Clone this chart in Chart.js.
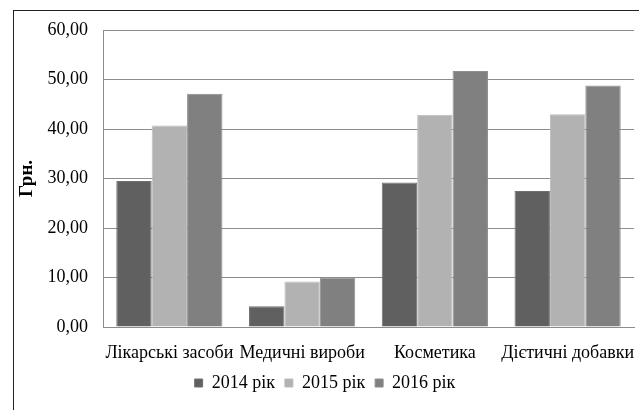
<!DOCTYPE html>
<html>
<head>
<meta charset="utf-8">
<script src="https://cdn.jsdelivr.net/npm/chart.js@4.4.1/dist/chart.umd.min.js"></script>
<style>
  html, body { margin: 0; padding: 0; background: #fff; overflow: hidden; }
  #wrap { position: relative; width: 639px; height: 410px; }
  #frame { position: absolute; left: 13px; top: 10px; width: 700px; height: 500px; border: 1.5px solid #222; box-sizing: border-box; }
  canvas { position: absolute; left: 0; top: 0; }
</style>
</head>
<body>
<div id="wrap">
  <div id="frame"></div>
  <canvas id="c" width="639" height="410"></canvas>
</div>
<script>
const categories = ["Лікарські засоби", "Медичні вироби", "Косметика", "Дієтичні добавки"];
const seriesNames = ["2014 рік", "2015 рік", "2016 рік"];
const values2014 = [29.5, 4.2, 29.2, 27.5];
const values2015 = [40.7, 9.2, 42.9, 43.0];
const values2016 = [47.1, 10.0, 51.7, 48.8];
const yTicks = [0, 10, 20, 30, 40, 50, 60];
const yTitle = "Грн.";

const FONT = "'Liberation Serif', 'Times New Roman', serif";

new Chart(document.getElementById('c'), {
  type: 'bar',
  data: {
    labels: categories,
    datasets: [
      { label: seriesNames[0], data: values2014, backgroundColor: '#606060', borderColor: '#707070', borderWidth: 1 },
      { label: seriesNames[1], data: values2015, backgroundColor: '#b2b2b2', borderColor: '#bcbcbc', borderWidth: 1 },
      { label: seriesNames[2], data: values2016, backgroundColor: '#808080', borderColor: '#8e8e8e', borderWidth: 1 }
    ]
  },
  options: {
    responsive: false,
    animation: false,
    devicePixelRatio: 1,
    layout: { padding: { left: 16, right: 5, top: 30, bottom: 8 } },
    datasets: { bar: { categoryPercentage: 0.8, barPercentage: 1.0 } },
    plugins: {
      legend: {
        position: 'bottom',
        labels: {
          font: { family: FONT, size: 18 },
          color: '#000',
          boxWidth: 8,
          boxHeight: 8,
          padding: 10
        }
      },
      tooltip: { enabled: false }
    },
    scales: {
      x: {
        grid: { display: false, drawTicks: false },
        border: { display: true, color: '#8c8c8c', width: 1 },
        ticks: { font: { family: FONT, size: 18 }, color: '#000', padding: 15, maxRotation: 0, autoSkip: false },
        afterFit: (s) => { s.paddingLeft = 0; s.paddingRight = 0; s.height = 37; }
      },
      y: {
        min: 0, max: 60,
        afterBuildTicks: (axis) => { axis.ticks = yTicks.map(v => ({ value: v })); },
        grid: { color: '#8c8c8c', lineWidth: 1, drawTicks: false },
        border: { display: true, color: '#8c8c8c', width: 1 },
        ticks: {
          font: { family: FONT, size: 18 }, color: '#000', padding: 15,
          callback: (v) => v.toFixed(2).replace('.', ',')
        },
        title: { display: true, text: yTitle, font: { family: FONT, size: 19, weight: 'bold' }, color: '#000', padding: 0 },
        afterFit: (s) => { s.width = 87; s.paddingTop = 0; s.paddingBottom = 0; }
      }
    }
  }
});
</script>
</body>
</html>
